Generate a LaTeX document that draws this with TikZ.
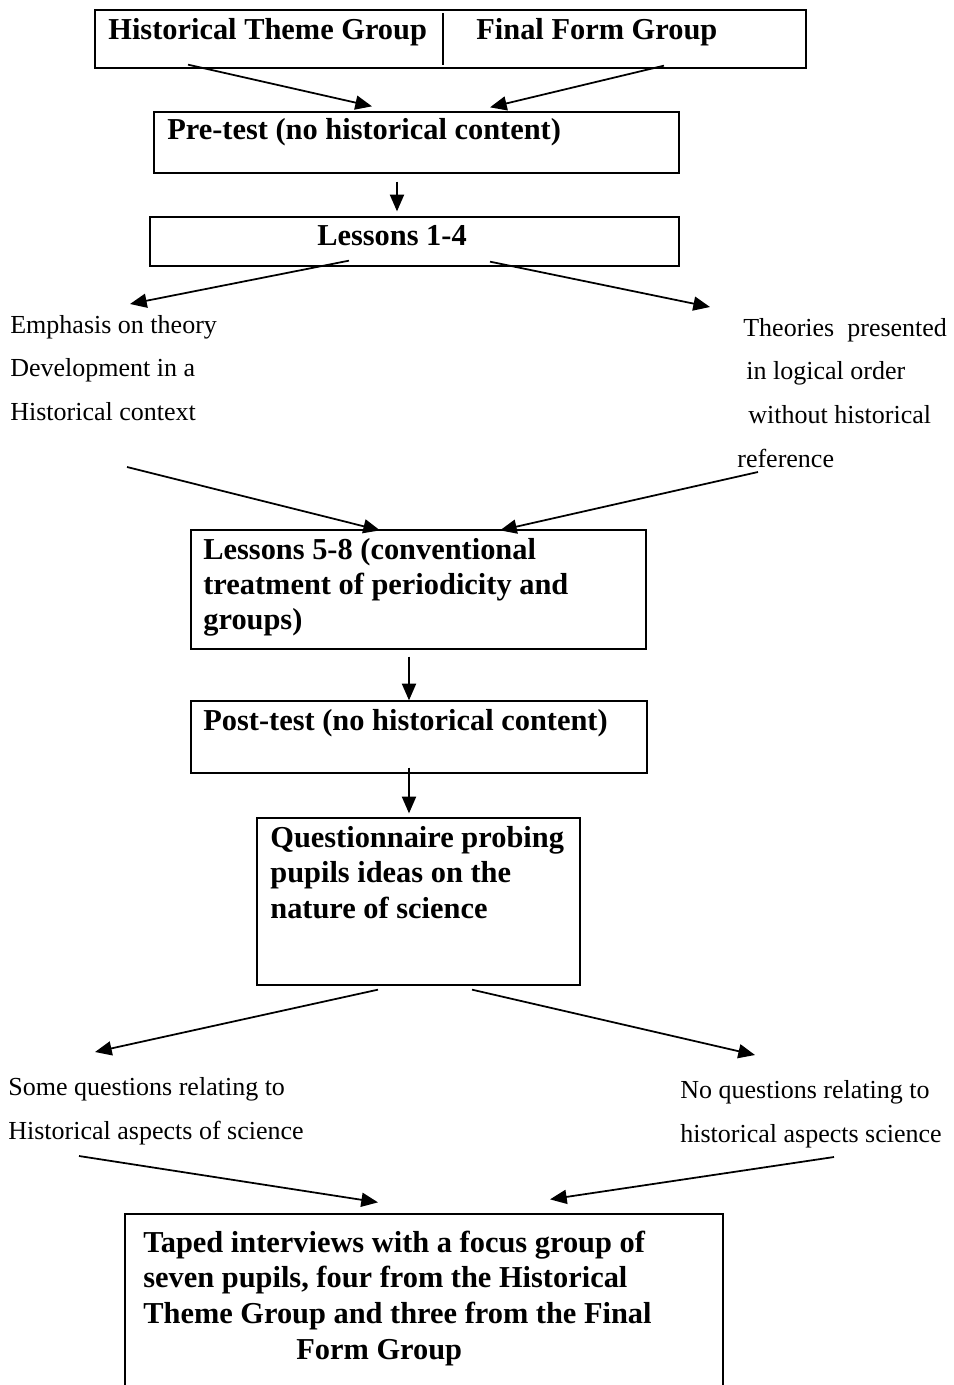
\documentclass[tikz,border=0pt]{standalone}
\usepackage{fontspec}
\setmainfont{Liberation Serif}
\usepackage{tikz}
\usetikzlibrary{arrows.meta}

\begin{document}
\begin{tikzpicture}[
  x=0.02cm, y=-0.02cm,
  box/.style={draw, line width=0.75pt, inner sep=0pt},
  bt/.style={font=\fontsize{17.3}{19.9}\selectfont\bfseries, inner sep=0pt, align=left, anchor=base west},
  lt/.style={font=\fontsize{14.8}{24.75}\selectfont, inner sep=0pt, align=left, anchor=base west},
  ar/.style={-{Triangle[length=9.5pt,width=8pt]}, line width=1pt},
]
  \useasboundingbox[fill=white] (0,0) rectangle (953,1385);

  % boxes
  \node[box, minimum width=14.22cm, minimum height=1.16cm] (grp)   at (450.5,39)    {};
  \node[box, minimum width=10.5cm,  minimum height=1.22cm] (pre)   at (416.5,142.5) {};
  \node[box, minimum width=10.58cm, minimum height=0.98cm] (les1)  at (414.5,241.5) {};
  \node[box, minimum width=9.1cm,   minimum height=2.38cm] (les58) at (418.5,589.5) {};
  \node[box, minimum width=9.12cm,  minimum height=1.44cm] (post)  at (419,737)     {};
  \node[box, minimum width=6.46cm,  minimum height=3.34cm] (quest) at (418.5,901.5) {};
  \node[box, minimum width=11.96cm, minimum height=3.72cm] (tape)  at (424,1307)    {};
  \draw[line width=0.75pt] ([shift={(-7.5,4)}]grp.north) -- ([shift={(-7.5,-4)}]grp.south);

  % box texts (multi-line: base = last line)
  \node[bt] (grpA) at (108,40) {Historical Theme Group};
  \node[bt] (grpB) at (476,40) {Final Form Group};
  \node[bt] (preT) at (167,140) {Pre-test (no historical content)};
  \node[bt, anchor=base] (les1T) at (392,246) {Lessons 1-4};
  \node[bt] (les58T) at (203,629) {Lessons 5-8 (conventional\\treatment of periodicity and\\groups)};
  \node[bt] (postT) at (203,730) {Post-test (no historical content)};
  \node[bt, font=\fontsize{17.3}{20.2}\selectfont\bfseries] (questT) at (270,918)
    {Questionnaire probing\\pupils ideas on the\\nature of science};
  \node[bt, font=\fontsize{17.3}{20.3}\selectfont\bfseries] (tapeT) at (143,1359)
    {Taped interviews with a focus group of\\seven pupils, four from the Historical\\Theme Group and three from the Final\\\hspace*{3.06cm}Form Group};

  % side texts
  \node[lt] (emph) at (10,420)
    {Emphasis on theory\\Development in a\\Historical context};
  \node[lt, font=\fontsize{14.8}{24.85}\selectfont] (theo) at (737,467)
    {\hspace*{0.12cm}Theories\ \ presented\\\hspace*{0.18cm}in logical order\\\hspace*{0.22cm}without historical\\reference};
  \node[lt, font=\fontsize{14.8}{24.5}\selectfont] (someq) at (8,1139)
    {Some questions relating to\\Historical aspects of science};
  \node[lt, font=\fontsize{14.8}{24.5}\selectfont] (noq) at (680,1142)
    {No questions relating to\\historical aspects science};

  % arrows
  \foreach \a/\ax/\ay/\b/\bx/\by in {
      grp.south/-262.5/-4/pre.north/-44.5/-5,
      grp.south/213.5/-3/pre.north/73.5/-4,
      pre.south/-19.5/8/les1.north/-17.5/-5,
      les1.south/-65.5/-6/emph.base west/120/-116,
      les1.south/75.5/-5/theo.base west/-27/-160,
      emph.base west/117/47/les58.north/-38.5/1,
      theo.base west/21/5/les58.north/81.5/1,
      les58.south/-9.5/7/post.north/-10/0,
      post.south/-10/-6/quest.north/-9.5/-4,
      quest.south/-40.5/4/someq.base west/87/-87,
      quest.south/53.5/4/noq.base west/75/-87,
      someq.base west/71/17/tape.north/-46/-11,
      noq.base west/154/15/tape.north/126/-14}
    \draw[ar] ([shift={(\ax,\ay)}]\a) -- ([shift={(\bx,\by)}]\b);
\end{tikzpicture}
\end{document}
